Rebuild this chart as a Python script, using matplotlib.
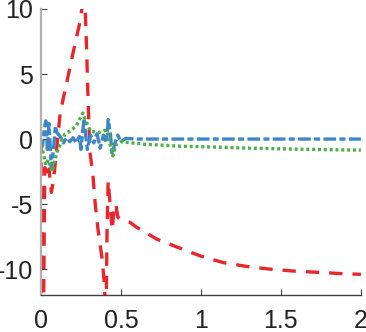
import numpy as np
import matplotlib
matplotlib.use("Agg")
import matplotlib.pyplot as plt

plt.rcParams['font.family'] = ['Liberation Sans', 'DejaVu Sans']
plt.rcParams['axes.unicode_minus'] = False

# red dashed series
red_x = [0, 0.002, 0.005, 0.016, 0.024, 0.035, 0.05, 0.065, 0.08, 0.1, 0.12, 0.16, 0.2,
         0.24, 0.262, 0.275, 0.285, 0.294, 0.306, 0.325, 0.3375, 0.356, 0.381, 0.394, 0.402,
         0.408, 0.413, 0.42, 0.432, 0.445, 0.458, 0.468, 0.48, 0.5, 0.556, 0.6, 0.725, 0.85,
         1.0, 1.14, 1.29, 1.43, 1.58, 1.74, 1.89, 2.0]
red_y = [0, -6, -13, -13, -2.2, -3.0, -2.3, -4.1, -3.0, -0.5, 2.0, 4.3, 6.6,
         8.8, 10.5, 10.5, 7.0, 3.1, -1.0, -2.8, -4.8, -6.9, -9.1, -10.8, -12.5,
         -12.5, -7.0, -3.2, -5.0, -7.0, -5.2, -5.0, -6.0, -6.2, -6.4, -6.8, -7.7, -8.3,
         -9.0, -9.5, -9.8, -10.0, -10.15, -10.25, -10.35, -10.4]

# blue dash-dot series
blue_x = [0, 0.01, 0.02, 0.03, 0.04, 0.05, 0.065, 0.08, 0.09, 0.1, 0.12, 0.14, 0.16, 0.18,
          0.2, 0.22, 0.24, 0.25, 0.26, 0.27, 0.28, 0.29, 0.31, 0.33, 0.35, 0.37, 0.39, 0.41,
          0.42, 0.435, 0.445, 0.46, 0.48, 0.5, 0.53, 0.6, 1.0, 1.5, 2.0]
blue_y = [0, -0.5, 0.8, 1.4, -0.8, 1.2, -2.3, -0.5, 1.0, 0.5, 0.2, -0.3, 0.1, -0.2,
          0.1, -0.3, 0.2, -0.8, 0.5, 1.6, 0.2, -0.8, 0.3, -0.3, 0.4, -0.7, 0.3, -0.3,
          1.5, 0.3, -1.2, -0.4, 0.3, -0.2, 0.05, 0, 0, 0, 0]

# green dotted series
green_x = [0, 0.0125, 0.03, 0.045, 0.07, 0.1, 0.15, 0.18, 0.22, 0.262, 0.28, 0.31, 0.36,
           0.41, 0.45, 0.47, 0.5, 0.53, 0.65, 0.87, 1.1, 1.3, 1.5, 1.7, 1.85, 2.0]
green_y = [0, -1.0, -2.0, -1.6, -2.5, -1.0, 0.4, 0.6, 1.0, 2.0, 1.4, 0.6, 0.5,
           0.7, -1.3, -0.4, -0.2, -0.25, -0.4, -0.55, -0.62, -0.7, -0.75, -0.8, -0.83, -0.85]

fig = plt.figure(figsize=(3.66, 3.32), dpi=100)
ax = fig.add_axes([0.112, 0.111, 0.874, 0.862])

lw = 2.4
ax.plot(red_x, red_y, color='#e8262c', lw=lw, linestyle=(0, (4.0, 3.0)))
ax.plot(blue_x, blue_y, color='#3f86c6', lw=lw, linestyle=(0, (3.8, 1.0, 1.8, 1.0)))
ax.plot(green_x, green_y, color='#4daf4a', lw=lw, linestyle=(0, (0.9, 0.85)))

ax.set_xlim(0, 2)
ax.set_ylim(-12, 10)
ax.set_xticks([0, 0.5, 1, 1.5, 2])
ax.set_xticklabels(['0', '0.5', '1', '1.5', '2'])
ax.set_yticks([-10, -5, 0, 5, 10])
ax.set_yticklabels(['-10', '-5', '0', '5', '10'])

for s in ['top', 'right']:
    ax.spines[s].set_visible(False)
ax.spines['left'].set_color('#b0b0b0')
ax.spines['left'].set_linewidth(1.6)
ax.spines['bottom'].set_color('#404040')
ax.spines['bottom'].set_linewidth(1.0)

ax.tick_params(direction='in', length=4, width=0.8, colors='#404040',
               labelsize=18, labelcolor='#222222')
ax.tick_params(axis='x', pad=10)
ax.tick_params(axis='y', pad=6)

fig.savefig('out.png', dpi=100)
